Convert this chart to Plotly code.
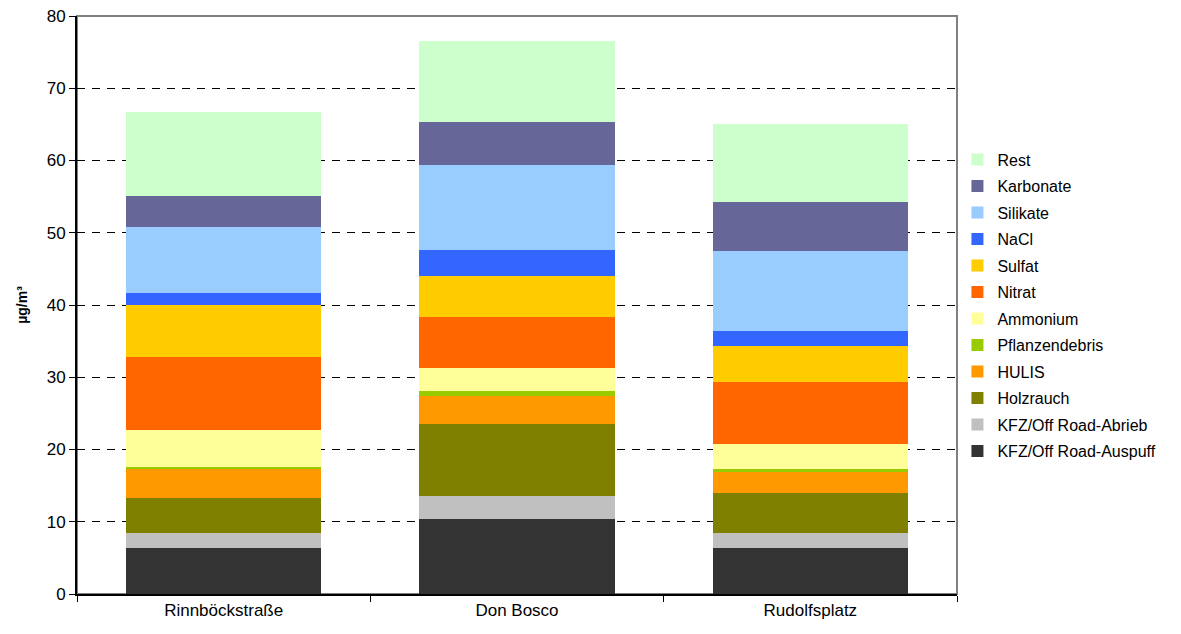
import plotly.graph_objects as go

sites = ["Rinnböckstraße", "Don Bosco", "Rudolfsplatz"]

components = ["KFZ/Off Road-Auspuff", "KFZ/Off Road-Abrieb", "Holzrauch", "HULIS",
              "Pflanzendebris", "Ammonium", "Nitrat", "Sulfat", "NaCl", "Silikate",
              "Karbonate", "Rest"]

auspuff = [6.4, 10.4, 6.4]
abrieb = [2.1, 3.2, 2.1]
holzrauch = [4.8, 9.95, 5.5]
hulis = [3.95, 3.85, 2.9]
pflanzendebris = [0.35, 0.7, 0.4]
ammonium = [5.1, 3.2, 3.5]
nitrat = [10.1, 7.05, 8.6]
sulfat = [7.2, 5.65, 4.95]
nacl = [1.7, 3.6, 2.05]
silikate = [9.1, 11.8, 11.1]
karbonate = [4.3, 5.9, 6.8]
rest = [11.6, 11.2, 10.7]

series = [auspuff, abrieb, holzrauch, hulis, pflanzendebris, ammonium,
          nitrat, sulfat, nacl, silikate, karbonate, rest]
colors = ["#333333", "#C0C0C0", "#808000", "#FF9900", "#99CC00", "#FFFF99",
          "#FF6600", "#FFCC00", "#3366FF", "#99CCFF", "#666699", "#CCFFCC"]

y_ticks = [0, 10, 20, 30, 40, 50, 60, 70, 80]

fig = go.Figure()
n = len(components)
for i, (name, vals, col) in enumerate(zip(components, series, colors)):
    fig.add_trace(go.Bar(x=sites, y=vals, name=name, marker=dict(color=col, line=dict(width=0)),
                         legendgroup=name, legendrank=1000 + (n - i)))

font = "Liberation Sans, Arial, sans-serif"
fig.update_layout(
    width=1181, height=634,
    barmode="stack", bargap=0.333,
    plot_bgcolor="white", paper_bgcolor="white",
    margin=dict(l=77, r=224, t=16, b=40, autoexpand=False),
    font=dict(family=font, color="black"),
    legend=dict(traceorder="grouped", x=1.0005, xanchor="left", y=0.499, yanchor="middle",
                font=dict(size=16, family=font), tracegroupgap=2.7, itemwidth=30,
                bgcolor="rgba(0,0,0,0)"),
    xaxis=dict(showline=True, linecolor="black", linewidth=2, ticks="outside",
               tickson="boundaries", ticklen=6, tickcolor="black", tickfont=dict(size=17),
               showgrid=False, automargin=False),
    yaxis=dict(range=[0, 80], tickvals=y_ticks, showline=True, linecolor="black", linewidth=2,
               ticks="outside", ticklen=6, tickcolor="black", tickfont=dict(size=17),
               showgrid=True, gridcolor="black", griddash="8px,7px", gridwidth=1,
               zeroline=False, automargin=False,
               title=dict(text="<b>µg/m³</b>", font=dict(size=14), standoff=16)),
    shapes=[dict(type="rect", xref="paper", yref="paper", x0=0, x1=1, y0=0, y1=1,
                 line=dict(color="#808080", width=2), layer="below")],
)

fig.write_html("out.html")
